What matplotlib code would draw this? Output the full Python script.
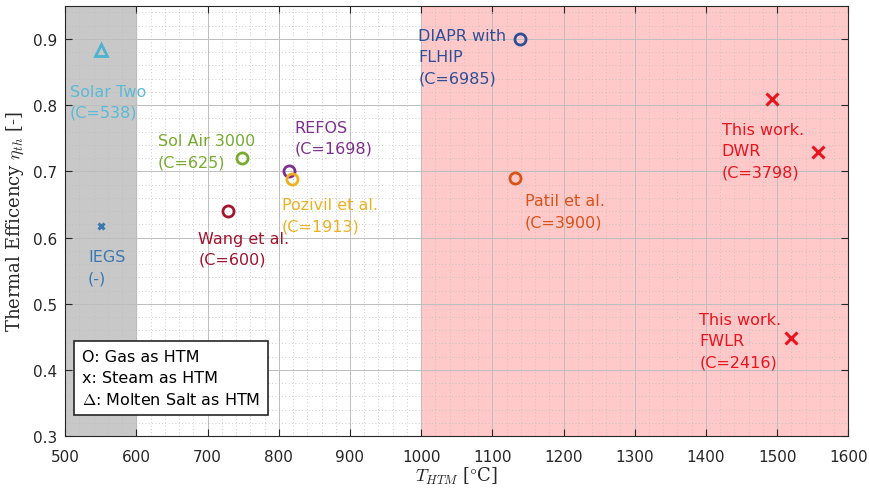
import numpy as np
import matplotlib.pyplot as plt
from matplotlib.ticker import MultipleLocator

plt.rcParams['mathtext.fontset'] = 'cm'

# data
names = ['Solar Two', 'IEGS', 'Sol Air 3000', 'Wang et al.', 'REFOS',
         'Pozivil et al.', 'DIAPR with FLHIP', 'Patil et al.',
         'This work DWR', 'This work DWR', 'This work FWLR']
t_htm = [550, 550, 749, 729, 815, 818, 1139, 1132, 1493, 1557, 1519]
eta = [0.883, 0.617, 0.72, 0.64, 0.70, 0.688, 0.90, 0.69, 0.809, 0.729, 0.449]
markers = ['^', 'x', 'o', 'o', 'o', 'o', 'o', 'o', 'x', 'x', 'x']
colors = ['#4DB3CF', '#3C78B0', '#77AC30', '#A2142F', '#7E2F8E',
          '#EDB120', '#2E4F96', '#D95319', '#E8141E', '#E8141E', '#E8141E']

labels = ['Solar Two\n(C=538)', 'IEGS\n(-)', 'Sol Air 3000\n(C=625)',
          'Wang et al.\n(C=600)', 'REFOS\n(C=1698)', 'Pozivil et al.\n(C=1913)',
          'DIAPR with\nFLHIP\n(C=6985)', 'Patil et al.\n(C=3900)',
          'This work.\nDWR\n(C=3798)', 'This work.\nFWLR\n(C=2416)']
label_x = [506, 532, 630, 687, 822, 804, 996, 1146, 1422, 1391]
label_y = [0.805, 0.555, 0.730, 0.583, 0.751, 0.634, 0.873, 0.640, 0.731, 0.444]
label_colors = ['#5BBAD5', '#3C78B0', '#77AC30', '#A2142F', '#7E2F8E',
                '#EDB120', '#2E4F96', '#D95319', '#E8141E', '#E8141E']

fig = plt.figure(figsize=(8.7, 4.89), dpi=100, facecolor='white')
ax = fig.add_axes([0.075, 0.106, 0.9, 0.88])

# shaded regions
ax.axvspan(500, 600, color='#C8C8C8', zorder=0)
ax.axvspan(1000, 1600, color='#FFC9C9', zorder=0)

ax.set_xlim(500, 1600)
ax.set_ylim(0.3, 0.95)
ax.xaxis.set_major_locator(MultipleLocator(100))
ax.xaxis.set_minor_locator(MultipleLocator(20))
ax.yaxis.set_major_locator(MultipleLocator(0.1))
ax.yaxis.set_minor_locator(MultipleLocator(0.02))
ax.grid(which='major', color='#BDBDBD', linewidth=0.7, zorder=1)
ax.grid(which='minor', color='#BDBDBD', linewidth=0.6, linestyle=(0, (1, 3)), zorder=1)
ax.set_axisbelow(True)
ax.tick_params(which='both', direction='in', top=True, right=True, labelsize=11, colors='#262626')
ax.tick_params(which='minor', length=0)
ax.tick_params(which='major', length=5)
ax.tick_params(axis='x', pad=9)
ax.tick_params(axis='y', pad=6)
for s in ax.spines.values():
    s.set_color('#262626')

for x, y, m, c in zip(t_htm, eta, markers, colors):
    if m in ('o', '^'):
        ax.plot(x, y, m, mfc='none', mec=c, mew=2, ms=8, zorder=3)
    else:
        ax.plot(x, y, m, color=c, mew=2.2, ms=8 if x > 1000 else 5, zorder=3)

for lx, ly, txt, c in zip(label_x, label_y, labels, label_colors):
    ax.text(lx, ly, txt, color=c, fontsize=11.5, va='center', ha='left',
            linespacing=1.5, zorder=4)

# legend box
ax.text(523, 0.388, 'O: Gas as HTM\nx: Steam as HTM\n$\\Delta$: Molten Salt as HTM',
        fontsize=11.5, va='center', ha='left', linespacing=1.5,
        bbox=dict(boxstyle='square,pad=0.5', fc='white', ec='#262626', lw=1.2), zorder=5)

ax.set_xlabel('$T_{HTM}$ [$\\degree$C]', fontsize=13, family='serif', labelpad=1, color='#262626')
ax.set_ylabel('Thermal Efficency $\\eta_{th}$ [-]', fontsize=13, family='serif', labelpad=5, color='#262626')

fig.savefig('out.png', dpi=100)
